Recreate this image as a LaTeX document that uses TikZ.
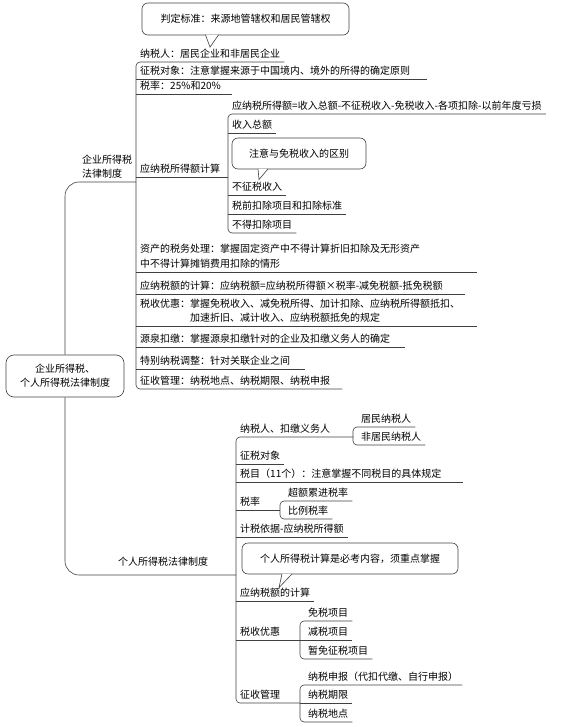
\documentclass[tikz,border=0pt]{standalone}
\usepackage{fontspec}
\setmainfont{Noto Sans CJK SC}
\usetikzlibrary{calc}

\begin{document}
\begin{tikzpicture}[x=1pt,y=-1pt,
    ln/.style={draw=black!75,line width=0.6pt},
    br/.style={ln,rounded corners=4pt},
    item/.style={anchor=south west,inner xsep=4pt,inner ysep=0pt,text height=8pt,text depth=4.5pt,
                 font=\fontsize{10}{12}\selectfont,text=black},
    note/.style={draw=black!75,line width=0.6pt,rounded corners=6pt,inner sep=0pt,
                 font=\fontsize{10}{12}\selectfont,text=black},
    hub/.style={draw=black!75,line width=0.6pt,rounded corners=8pt,align=center,
                minimum width=118pt,minimum height=42pt,font=\fontsize{10}{14}\selectfont,text=black}]
\useasboundingbox (0,0) rectangle (580,727);
% bracket columns
\coordinate (b1) at (136,0);
\coordinate (b2) at (228,0);
\coordinate (b3) at (236,0);
\coordinate (b4) at (353,0);
\coordinate (b5) at (280,0);
\coordinate (b6) at (300,0);

% centre
\node[hub] (hub) at (65,376) {企业所得税、\\个人所得税法律制度};

% enterprise income tax
\node[item] (qyfl) at (78,182) {法律制度};
\node[item,yshift=0.5pt] (qy) at (qyfl.north west) {企业所得税};
\node[item] (nsr) at (136,62) {纳税人：居民企业和非居民企业};
\node[item] (zsdx) at (136,79) {征税对象：注意掌握来源于中国境内、境外的所得的确定原则};
\node[item] (sl) at (136,94) {税率：25\%和20\%};
\node[item] (jsje) at (136,177) {应纳税所得额计算};
\node[item] (zc) at (136,272) {中不得计算摊销费用扣除的情形};
\node[item,yshift=1.5pt] (zc0) at (zc.north west) {资产的税务处理：掌握固定资产中不得计算折旧扣除及无形资产};
\node[item] (ynse) at (136,294) {应纳税额的计算：应纳税额=应纳税所得额×税率-减免税额-抵免税额};
\node[item] (ssyh) at (186,326) {加速折旧、减计收入、应纳税额抵免的规定};
\node[item,yshift=1pt] (ssyh0) at (ssyh.north west -| b1) {税收优惠：掌握免税收入、减免税所得、加计扣除、应纳税所得额抵扣、};
\node[item] (yqkj) at (136,347) {源泉扣缴：掌握源泉扣缴针对的企业及扣缴义务人的确定};
\node[item] (tbns) at (136,369) {特别纳税调整：针对关联企业之间};
\node[item] (zsgl) at (136,389) {征收管理：纳税地点、纳税期限、纳税申报};

\node[item] (gs) at (228,114) {应纳税所得额=收入总额-不征税收入-免税收入-各项扣除-以前年度亏损};
\node[item] (srze) at (228,133) {收入总额};
\node[item] (bzs) at (228,195) {不征税收入};
\node[item] (sqkc) at (228,214) {税前扣除项目和扣除标准};
\node[item] (bdkc) at (228,233) {不得扣除项目};

\draw[ln,rounded corners=14pt] (hub.north) -- (hub.north |- qyfl.south) -- (qyfl.south -| b1);
\draw[br] (nsr.south east) -- (nsr.south -| b1) -- (zsgl.south -| b1) -- ($(zsgl.south east)+(8,0)$);
\foreach \n/\d in {zsdx/13,sl/7,ynse/18,yqkj/11,tbns/11}
    \draw[ln] (\n.south -| b1) -- ($(\n.south east)+(\d,0)$);
\draw[ln] (zc.south -| b1) -- ($(zc0.south east |- zc.south)+(53,0)$);
\draw[ln] (ssyh.south -| b1) -- ($(ssyh0.south east |- ssyh.south)+(13,0)$);
\draw[ln] (jsje.south -| b1) -- (jsje.south -| b2);
\draw[br] (gs.south east) -- (gs.south -| b2) -- (bdkc.south -| b2) -- (bdkc.south east);
\foreach \n in {srze,bzs,sqkc}
    \draw[ln] (\n.south -| b2) -- (\n.south east);

% individual income tax
\node[item,text depth=9pt] (gr) at (114,575) {个人所得税法律制度};
\node[item] (nsr2) at (236,437) {纳税人、扣缴义务人};
\node[item] (jm) at (357,427) {居民纳税人};
\node[item] (fjm) at (357,445) {非居民纳税人};
\node[item] (zsdx2) at (236,464) {征税对象};
\node[item] (sm) at (236,482) {税目（11个）：注意掌握不同税目的具体规定};
\node[item] (sl2) at (236,510) {税率};
\node[item] (cel) at (284,501) {超额累进税率};
\node[item] (bl) at (284,519) {比例税率};
\node[item] (jsyj) at (236,537) {计税依据-应纳税所得额};
\node[item] (ynse2) at (236,601) {应纳税额的计算};
\node[item] (ssyh2) at (236,640) {税收优惠};
\node[item] (ms) at (304,621) {免税项目};
\node[item] (js) at (304,640) {减税项目};
\node[item] (zm) at (304,659) {暂免征税项目};
\node[item] (zsgl2) at (236,703) {征收管理};
\node[item] (nssb) at (304,685) {纳税申报（代扣代缴、自行申报）};
\node[item] (nsqx) at (304,703) {纳税期限};
\node[item] (nsdd) at (304,722) {纳税地点};

\draw[ln,rounded corners=14pt] (hub.south) -- (hub.south |- gr.south) -- (gr.south -| b3);
\draw[br] (nsr2.south -| b4) -- (nsr2.south -| b3) -- (zsgl2.south -| b3) -- (zsgl2.south -| b6);
\foreach \n in {zsdx2,jsyj,ynse2}
    \draw[ln] (\n.south -| b3) -- (\n.south east);
\draw[ln] (sm.south -| b3) -- ($(sm.south east)+(17,0)$);
\draw[ln] (sl2.south -| b3) -- (sl2.south -| b5);
\draw[ln] (ssyh2.south -| b3) -- (ssyh2.south -| b6);
\draw[br] (jm.south east) -- (jm.south -| b4) -- (fjm.south -| b4) -- (fjm.south east);
\draw[br] (cel.south east) -- (cel.south -| b5) -- (bl.south -| b5) -- (bl.south east);
\draw[br] (ms.south east) -- (ms.south -| b6) -- (zm.south -| b6) -- (zm.south east);
\draw[ln] (js.south -| b6) -- (js.south east);
\draw[br] (nssb.south east) -- (nssb.south -| b6) -- (nsdd.south -| b6) -- (nsdd.south east);
\draw[ln] (nsqx.south -| b6) -- (nsqx.south east);

% callouts
\node[note,minimum width=207pt,minimum height=32pt] (n1) at (245.5,19) {判定标准：来源地管辖权和居民管辖权};
\coordinate (t1) at ($(nsr.north west)+(74,-2)$);
\draw[ln,fill=white] ($(n1.south)+(-40,-0.4)$) -- (t1) -- ($(n1.south)+(-27,-0.4)$);
\node[note,minimum width=134pt,minimum height=31pt] (n2) at (299,153.5) {注意与免税收入的区别};
\coordinate (t2) at ($(bzs.north west)+(31,-2.5)$);
\draw[ln,fill=white] ($(n2.south)+(-41,-0.4)$) -- (t2) -- ($(n2.south)+(-31,-0.4)$);
\node[note,minimum width=216pt,minimum height=31pt] (n3) at (350,558.5) {个人所得税计算是必考内容，须重点掌握};
\coordinate (t3) at ($(ynse2.north west)+(43,-0.5)$);
\draw[ln,fill=white] ($(n3.south)+(-68,-0.4)$) -- (t3) -- ($(n3.south)+(-58,-0.4)$);
\end{tikzpicture}
\end{document}
